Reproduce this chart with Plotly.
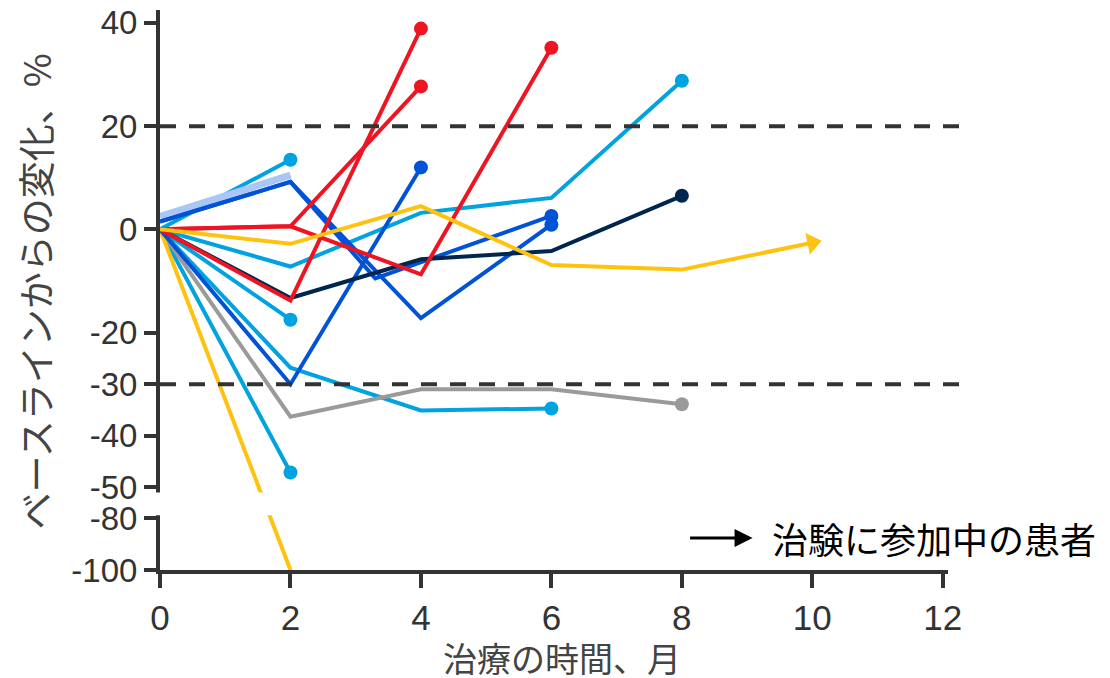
import plotly.graph_objects as go

# ---- data: percent change from baseline per patient, by month on treatment ----
p01_months = [0, 2]
p01_change = [0, 13.5]

p02_months = [0, 2]
p02_change = [2.5, 10.5]

p03_months = [0, 2, 3.3, 6]
p03_change = [1.5, 9.2, -9.5, 2.6]

p04_months = [0, 2, 4, 6]
p04_change = [1.5, 9.2, -17.2, 0.9]

p05_months = [0, 2, 4]
p05_change = [0, -30, 12]

p06_months = [0, 2, 4]
p06_change = [0, 0.6, 27.7]

p07_months = [0, 2, 4, 6]
p07_change = [0, 0.6, -8.7, 35.2]

p08_months = [0, 2, 4]
p08_change = [0, -13.8, 38.9]

p09_months = [0, 2, 4, 6, 8]
p09_change = [0, -13.3, -5.8, -4.2, 6.5]

p10_months = [0, 2, 4, 6, 8]
p10_change = [0, -7.2, 3.2, 6.1, 28.8]

p11_months = [0, 2]
p11_change = [0, -17.5]

p12_months = [0, 2, 4, 6]
p12_change = [0, -26.8, -35.1, -34.7]

p13_months = [0, 2]
p13_change = [0, -47.1]

p14_months = [0, 2, 4, 6, 8]
p14_change = [0, -36.3, -31, -31, -33.9]

p15_months = [0, 2]
p15_change = [0, -100]

# still on study (arrow at last assessment)
p16_months = [0, 2, 4, 6, 8, 10]
p16_change = [0, -2.8, 4.5, -6.9, -7.8, -2.6]

x_ticks = [0, 2, 4, 6, 8, 10, 12]
y_ticks = [40, 20, 0, -20, -30, -40, -50, -80, -100]
threshold_lines = [20, -30]

CYAN = "#00A3E0"
LAVENDER = "#A9C6F6"
BLUE = "#0052D6"
RED = "#EE1421"
NAVY = "#00264F"
GREY = "#9A9A9A"
YELLOW = "#FFC20E"
AXIS = "#333333"


def to_axis(v):
    """Broken y scale: values down to -50 use the upper scale,
    values from -80 to -100 are compressed below the break."""
    if v > -65:
        return v
    return -56 + (v + 80) * 0.5


series = [
    (p01_months, p01_change, CYAN, 4, "dot"),
    (p11_months, p11_change, CYAN, 4, "dot"),
    (p12_months, p12_change, CYAN, 4, "dot"),
    (p13_months, p13_change, CYAN, 4, "dot"),
    (p10_months, p10_change, CYAN, 4, "dot"),
    (p14_months, p14_change, GREY, 4, "dot"),
    (p15_months, p15_change, YELLOW, 4, None),
    (p02_months, p02_change, LAVENDER, 7, None),
    (p03_months, p03_change, BLUE, 4, "dot"),
    (p04_months, p04_change, BLUE, 4, "dot"),
    (p05_months, p05_change, BLUE, 4, "dot"),
    (p09_months, p09_change, NAVY, 4, "dot"),
    (p06_months, p06_change, RED, 4, "dot"),
    (p07_months, p07_change, RED, 4, "dot"),
    (p08_months, p08_change, RED, 4, "dot"),
    (p16_months, p16_change, YELLOW, 4, "arrow"),
]

fig = go.Figure()

for months, change, color, width, end in series:
    n = len(months)
    if end == "dot":
        sizes = [0] * (n - 1) + [14]
        symbols = ["circle"] * n
    elif end == "arrow":
        sizes = [0] * (n - 1) + [19]
        symbols = ["circle"] * (n - 1) + ["triangle-up"]
    else:
        sizes = [0] * n
        symbols = ["circle"] * n
    fig.add_trace(go.Scatter(
        x=months,
        y=[to_axis(v) for v in change],
        mode="lines+markers",
        line=dict(color=color, width=width),
        marker=dict(size=sizes, symbol=symbols, color=color, opacity=1,
                    angleref="previous", line=dict(width=0)),
        showlegend=False,
        hoverinfo="skip",
        cliponaxis=True,
    ))

# dashed response thresholds
for yv in threshold_lines:
    fig.add_shape(type="line", xref="paper", yref="y",
                  x0=0.0, x1=1.015, y0=to_axis(yv), y1=to_axis(yv),
                  line=dict(color=AXIS, width=4, dash="16px,13px"),
                  layer="above")

# white band marking the axis break
fig.add_shape(type="rect", xref="paper", yref="y",
              x0=-0.008, x1=1.0, y0=-55.4, y1=-51.0,
              fillcolor="white", line=dict(width=0), layer="above")

fig.update_layout(
    width=1110, height=678,
    margin=dict(l=160, r=162, t=10, b=108),
    paper_bgcolor="white", plot_bgcolor="white",
    xaxis=dict(
        range=[0, 12.08],
        tickvals=x_ticks,
        ticktext=[str(t) for t in x_ticks],
        showgrid=False, zeroline=False, automargin=False,
        showline=True, linecolor=AXIS, linewidth=4,
        ticks="outside", ticklen=14, tickwidth=4, tickcolor=AXIS,
        tickfont=dict(family="Liberation Sans, Arial", size=35, color=AXIS),
    ),
    yaxis=dict(
        range=[-66, 42.5],
        tickvals=[to_axis(v) for v in y_ticks],
        ticktext=[str(v) for v in y_ticks],
        showgrid=False, zeroline=False, automargin=False,
        showline=True, linecolor=AXIS, linewidth=4,
        ticks="outside", ticklen=12, tickwidth=4, tickcolor=AXIS,
        tickfont=dict(family="Liberation Sans, Arial", size=33, color=AXIS),
    ),
)

cjk = "Noto Sans CJK JP"

fig.add_annotation(
    text="ベースラインからの変化、%", textangle=-90,
    xref="paper", yref="paper", x=-0.159, y=0.497,
    xanchor="center", yanchor="middle", showarrow=False,
    font=dict(family=cjk, size=37, color="#444444"),
)
fig.add_annotation(
    text="治療の時間、月",
    xref="paper", yref="paper", x=0.51, y=-0.157,
    xanchor="center", yanchor="middle", showarrow=False,
    font=dict(family=cjk, size=34, color="#444444"),
)

# key for the ongoing-patient arrow
fig.add_annotation(
    xref="paper", yref="paper", x=0.752, y=0.0573,
    ax=-64, ay=0, text="", showarrow=True,
    arrowhead=2, arrowsize=1.2, arrowwidth=3, arrowcolor="black",
)
fig.add_annotation(
    text="治験に参加中の患者",
    xref="paper", yref="paper", x=0.774, y=0.0573,
    xanchor="left", yanchor="middle", showarrow=False,
    font=dict(family=cjk, size=36, color="black"),
)

fig.write_html("out.html")
